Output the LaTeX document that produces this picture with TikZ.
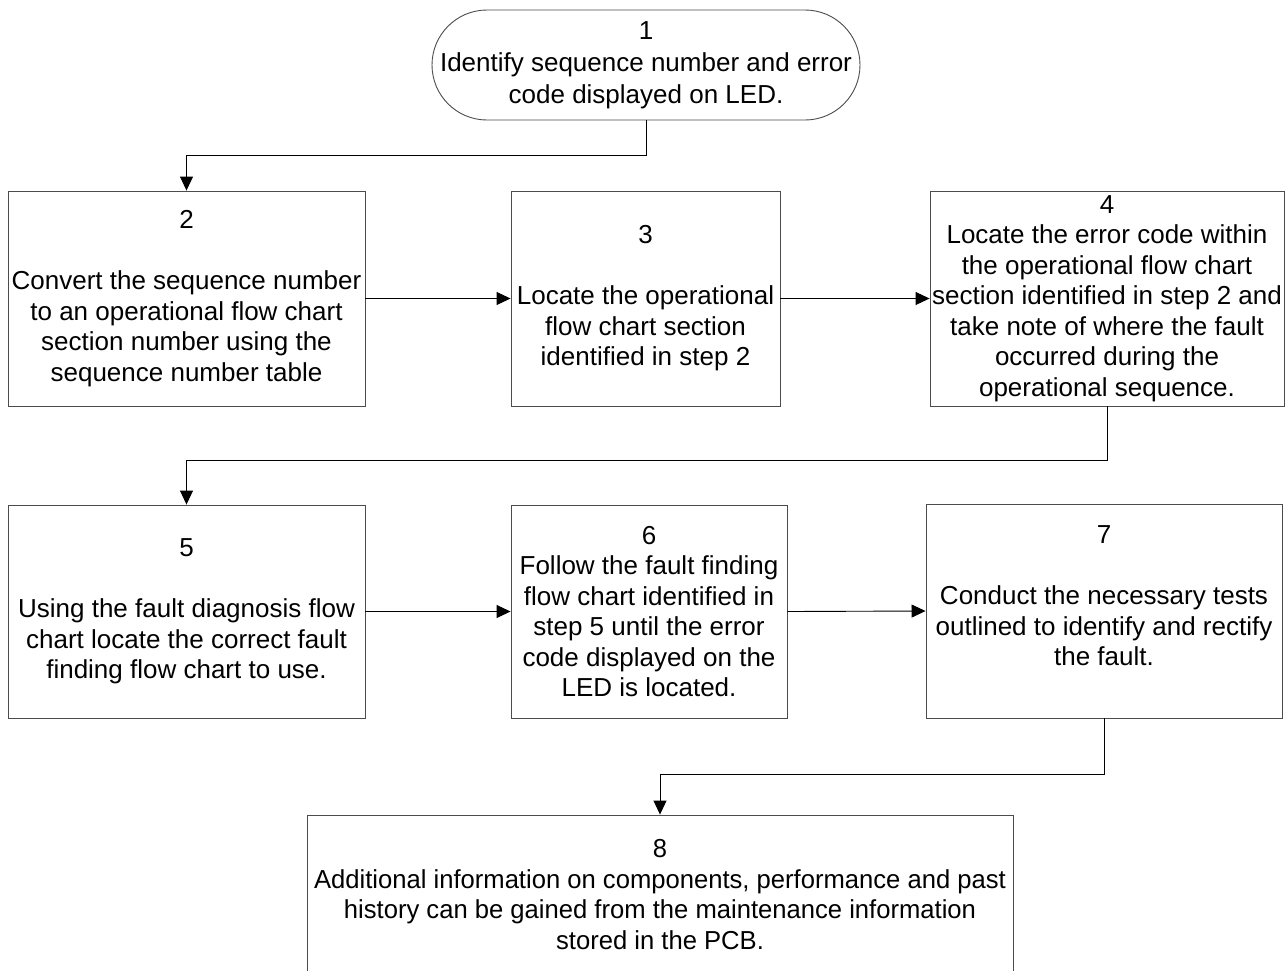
\documentclass[tikz,border=0pt]{standalone}
\usepackage{fontspec}
\setmainfont{Liberation Sans}
\newfontfamily\narrowsans[FakeStretch=0.985]{Liberation Sans}
\usetikzlibrary{arrows.meta}

\tikzset{
  stepbox/.style={draw=black!70, line width=0.9pt, rectangle, align=center,
    inner sep=0pt, font=\fontsize{26}{30.5}\selectfont},
  termbox/.style={stepbox, rounded corners=55pt},
  conn/.style={draw=black, line width=0.9pt,
    -{Triangle[length=14pt,width=13pt]}},
}

\begin{document}
\begin{tikzpicture}[x=1pt, y=-1pt]
  \useasboundingbox (0,0) rectangle (1285,970);
  \clip (0,0) rectangle (1285,970);
  \fill[white] (0,0) rectangle (1285,970);

  % terminal
  \node[termbox, minimum width=428pt, minimum height=110pt,
        font=\fontsize{26}{32}\selectfont] (s1) at (646,65)
    {1\\Identify sequence number and error\\code displayed on LED.};

  % first row
  \node[stepbox, minimum width=357pt, minimum height=215pt] (s2) at (186.5,298.5)
    {2\\\mbox{}\\Convert the sequence number\\to an operational flow chart\\section number using the\\sequence number table};
  \node[stepbox, minimum width=269pt, minimum height=215pt] (s3) at (645.5,298.5)
    {3\\\mbox{}\\Locate the operational\\flow chart section\\identified in step 2};
  \node[stepbox, minimum width=354pt, minimum height=215pt] (s4) at (1107,298.5)
    {4\\Locate the error code within\\the operational flow chart\\section identified in step 2 and\\take note of where the fault\\occurred during the\\operational sequence.};

  % second row
  \node[stepbox, minimum width=357pt, minimum height=213pt] (s5) at (186.5,611.5)
    {5\\\mbox{}\\Using the fault diagnosis flow\\chart locate the correct fault\\finding flow chart to use.};
  \node[stepbox, minimum width=276pt, minimum height=213pt] (s6) at (649,611.5)
    {6\\Follow the fault finding\\flow chart identified in\\step 5 until the error\\code displayed on the\\LED is located.};
  \node[stepbox, minimum width=356pt, minimum height=214pt] (s7) at (1104,611)
    {7\\\mbox{}\\Conduct the necessary tests\\outlined to identify and rectify\\the fault.\\\mbox{}};

  % final step
  \node[stepbox, minimum width=706pt, minimum height=159pt,
        font=\narrowsans\fontsize{26}{30.5}\selectfont] (s8) at (660,894.5)
    {8\\Additional information on components, performance and past\\history can be gained from the maintenance information\\stored in the PCB.};

  % connectors
  \draw[conn] (s1.south) -- ++(0,35) -| (s2.north);
  \draw[conn] (s2.east) -- (s3.west);
  \draw[conn] (s3.east) -- (s4.west);
  \draw[conn] (s4.south) -- ++(0,54) -| (s5.north);
  \draw[conn] (s5.east) -- (s6.west);
  \draw[conn] (s6.east) -- (s7.west);
  \draw[conn] (s7.south) -- ++(0,56) -| (s8.north);
\end{tikzpicture}
\end{document}
